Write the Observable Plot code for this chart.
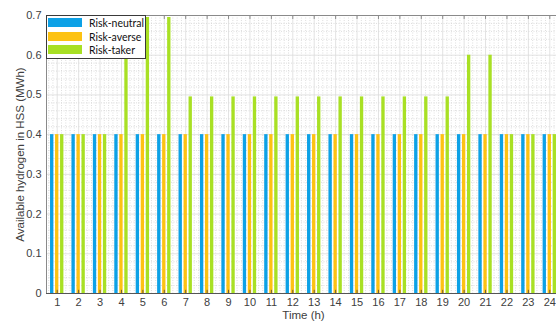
<!DOCTYPE html>
<html>
<head>
<meta charset="utf-8">
<script src="https://cdn.jsdelivr.net/npm/d3@7"></script>
<script src="https://cdn.jsdelivr.net/npm/@observablehq/plot@0.6"></script>
<style>
  html, body { margin: 0; padding: 0; background: #fff; overflow: hidden; }
  #wrap { position: relative; width: 556px; height: 322px; overflow: hidden; }
  #wrap svg { max-width: none !important; }
  #legend {
    position: absolute; left: 46px; top: 15px; width: 100px; height: 44px;
    box-sizing: border-box; background: #fff; border: 1px solid #3a3a3a;
    font-family: Lato, "Open Sans", sans-serif; font-size: 10.5px; color: #111;
  }
  #legend .row { position: absolute; left: 0; height: 10px; }
  #legend .sw { position: absolute; left: 1px; top: 0; width: 34px; height: 9px; }
  #legend .lab { position: absolute; left: 42px; top: -3px; white-space: nowrap; line-height: 16px; }
</style>
</head>
<body>
<div id="wrap"><div id="legend"></div></div>
<script>
// Hours of the day (x categories)
const hours = [1, 2, 3, 4, 5, 6, 7, 8, 9, 10, 11, 12, 13, 14, 15, 16, 17, 18, 19, 20, 21, 22, 23, 24];

// Available hydrogen in the storage (MWh) for each strategy
const riskNeutral = [0.4, 0.4, 0.4, 0.4, 0.4, 0.4, 0.4, 0.4, 0.4, 0.4, 0.4, 0.4,
                     0.4, 0.4, 0.4, 0.4, 0.4, 0.4, 0.4, 0.4, 0.4, 0.4, 0.4, 0.4];
const riskAverse  = [0.4, 0.4, 0.4, 0.4, 0.4, 0.4, 0.4, 0.4, 0.4, 0.4, 0.4, 0.4,
                     0.4, 0.4, 0.4, 0.4, 0.4, 0.4, 0.4, 0.4, 0.4, 0.4, 0.4, 0.4];
const riskTaker   = [0.4, 0.4, 0.4, 0.6, 0.695, 0.695, 0.495, 0.495, 0.495, 0.495, 0.495, 0.495,
                     0.495, 0.495, 0.495, 0.495, 0.495, 0.495, 0.495, 0.6, 0.6, 0.4, 0.4, 0.4];

const seriesNames  = ["Risk-neutral", "Risk-averse", "Risk-taker"];
const seriesColors = ["#0da1e6", "#fdc212", "#a8e024"];

const yTicks = [0, 0.1, 0.2, 0.3, 0.4, 0.5, 0.6, 0.7];

// long table: one row per hour and strategy
const seriesValues = [riskNeutral, riskAverse, riskTaker];
const rows = hours.flatMap((h, i) =>
  seriesNames.map((s, k) => ({hour: h, series: s, k, value: seriesValues[k][i]})));

// grouped bar geometry, in hours
const step = 0.234;   // distance between bars of a group
const half = 0.078;   // half bar width

// minor grid positions
const minorX = d3.range(0.6, 24.5, 0.2).filter(v => Math.abs(v - Math.round(v)) > 0.05);
const minorY = d3.range(0.02, 0.7, 0.02).filter(v => Math.abs(v * 10 - Math.round(v * 10)) > 0.05);

const chart = Plot.plot({
  width: 560,
  height: 322,
  marginLeft: 46,
  marginRight: 0,
  marginTop: 15,
  marginBottom: 29,
  style: {fontFamily: "'Liberation Sans', Arial, sans-serif", fontSize: "11px", color: "#404040", background: "#fff", maxWidth: "none"},
  x: {domain: [0.5, 24.5]},
  y: {domain: [0, 0.7]},
  color: {domain: seriesNames, range: seriesColors},
  marks: [
    // grid
    Plot.ruleX(minorX, {stroke: "#d0d0d0", strokeDasharray: "1,1.5", strokeWidth: 0.7}),
    Plot.ruleY(minorY, {stroke: "#d0d0d0", strokeDasharray: "1,1.5", strokeWidth: 0.7}),
    Plot.ruleX(hours, {stroke: "#dadada", strokeWidth: 0.8}),
    Plot.ruleY(yTicks, {stroke: "#dadada", strokeWidth: 0.8}),
    // bars
    Plot.rect(rows, {
      x1: d => d.hour + (d.k - 1) * step - half,
      x2: d => d.hour + (d.k - 1) * step + half,
      y1: 0,
      y2: "value",
      fill: "series"
    }),
    // box and inward ticks
    Plot.ruleY([0.7], {stroke: "#8a8a8a", strokeWidth: 1}),
    Plot.ruleX(hours, {y1: 0.7, y2: 0.69, stroke: "#8a8a8a", strokeWidth: 1}),
    Plot.ruleX([0.5], {stroke: "#8a8a8a", strokeWidth: 1}),
    Plot.ruleY([0], {stroke: "#555", strokeWidth: 1}),
    Plot.ruleX(hours, {y1: 0, y2: 0.008, stroke: "#6b5a3a", strokeWidth: 1}),
    // axes
    Plot.axisX(hours, {tickSize: 0, tickPadding: 5, label: null, tickFormat: d => String(d)}),
    Plot.axisY(yTicks, {tickSize: 0, tickPadding: 5, label: null, tickFormat: d => d === 0 ? "0" : d.toFixed(1)}),
    // axis titles
    Plot.text(["Time (h)"], {frameAnchor: "bottom", dy: 22, lineAnchor: "middle", fontSize: 11.5, fill: "#404040"}),
    Plot.text(["Available hydrogen in HSS (MWh)"], {frameAnchor: "left", dx: -26, rotate: -90, textAnchor: "middle", lineAnchor: "middle", fontSize: 11.5, fill: "#404040"})
  ]
});

const wrap = document.getElementById("wrap");
wrap.insertBefore(chart, wrap.firstChild);

// legend box
const legend = document.getElementById("legend");
seriesNames.forEach((name, k) => {
  const row = document.createElement("div");
  row.className = "row";
  row.style.top = (2 + k * 13.5) + "px";
  row.innerHTML = `<div class="sw" style="background:${seriesColors[k]}"></div><div class="lab">${name}</div>`;
  legend.appendChild(row);
});
</script>
</body>
</html>
